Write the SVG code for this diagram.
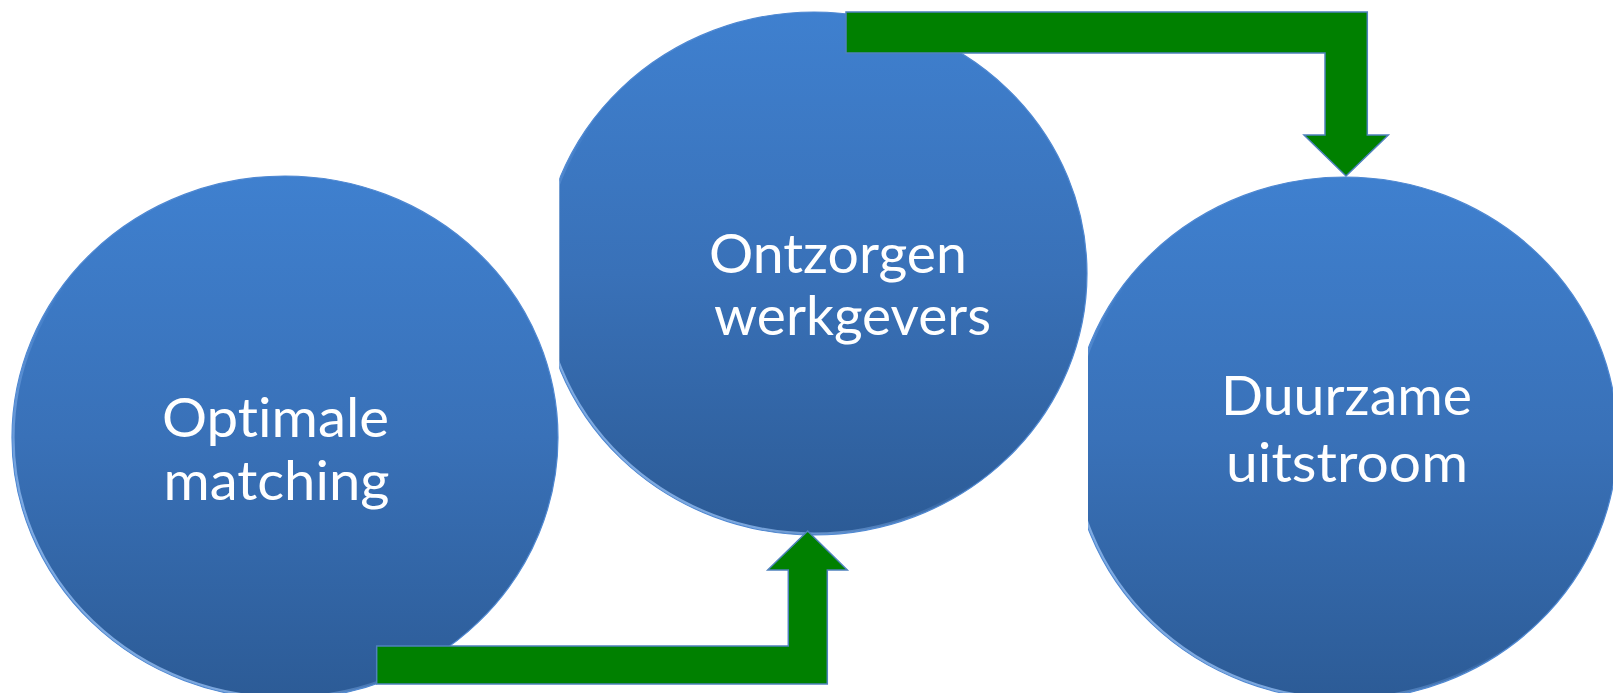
<svg xmlns="http://www.w3.org/2000/svg" width="1613" height="693" viewBox="0 0 1613 693">
  <style>
    .disc { stroke: #4F88D2; stroke-width: 1.2; }
    .rim { fill: none; stroke: url(#rimGrad); stroke-width: 2.2; }
    .lbl { font-family: Lato, "Open Sans", "Liberation Sans", sans-serif; font-size: 54px; fill: #FFFFFF; text-anchor: middle; font-variant-ligatures: none; font-feature-settings: "liga" 0, "clig" 0, "dlig" 0; }
    .arrow { fill: #008000; stroke: #4F81BD; stroke-width: 1.5; stroke-linejoin: miter; }
  </style>
  <defs>
    <linearGradient id="blueGrad" x1="0" y1="0" x2="0" y2="1">
      <stop offset="0" stop-color="#3F80CF"/>
      <stop offset="0.5" stop-color="#3971B8"/>
      <stop offset="1" stop-color="#2C5B96"/>
    </linearGradient>
    <linearGradient id="rimGrad" x1="1" y1="0" x2="0" y2="1">
      <stop offset="0" stop-color="#6FA3E6" stop-opacity="0"/>
      <stop offset="0.55" stop-color="#6FA3E6" stop-opacity="0"/>
      <stop offset="0.8" stop-color="#8DB8EE" stop-opacity="0.8"/>
      <stop offset="1" stop-color="#8DB8EE" stop-opacity="0.9"/>
    </linearGradient>
    <clipPath id="clipMid">
      <rect x="559.3" y="0" width="1054" height="693"/>
    </clipPath>
    <clipPath id="clipRight">
      <rect x="1088" y="0" width="525" height="693"/>
    </clipPath>
  </defs>
  <rect x="0" y="0" width="1613" height="693" fill="#FFFFFF"/>

  <g id="node-optimale-matching">
    <ellipse class="disc" cx="285" cy="437.5" rx="273" ry="261.5" fill="url(#blueGrad)"/>
    <ellipse class="rim" cx="285" cy="437.5" rx="271.5" ry="260"/>
    <text class="lbl" x="275.5" y="436.7" textLength="227" lengthAdjust="spacingAndGlyphs">Optimale</text>
    <text class="lbl" x="276.5" y="500" textLength="226" lengthAdjust="spacingAndGlyphs">matching</text>
  </g>

  <g id="node-ontzorgen-werkgevers">
    <g clip-path="url(#clipMid)">
      <ellipse class="disc" cx="814" cy="273.5" rx="273" ry="261.5" fill="url(#blueGrad)"/>
      <ellipse class="rim" cx="814" cy="273.5" rx="271.5" ry="260"/>
    </g>
    <text class="lbl" x="838" y="273.3" textLength="258" lengthAdjust="spacingAndGlyphs">Ontzorgen</text>
    <text class="lbl" x="852.5" y="335" textLength="277" lengthAdjust="spacingAndGlyphs">werkgevers</text>
  </g>

  <g id="node-duurzame-uitstroom">
    <g clip-path="url(#clipRight)">
      <ellipse class="disc" cx="1344.5" cy="438.5" rx="273" ry="261.5" fill="url(#blueGrad)"/>
      <ellipse class="rim" cx="1344.5" cy="438.5" rx="271.5" ry="260"/>
    </g>
    <text class="lbl" x="1346.5" y="415" textLength="251" lengthAdjust="spacingAndGlyphs">Duurzame</text>
    <text class="lbl" x="1347" y="481.7" textLength="242" lengthAdjust="spacingAndGlyphs">uitstroom</text>
  </g>

  <g id="connectors">
    <polygon class="arrow" points="376.7,646 788.3,646 788.3,570 767.7,570 807.7,531 847.3,570 827.3,570 827.3,684 376.7,684"/>
    <polygon class="arrow" points="846,12 1367.3,12 1367.3,135 1388.3,135 1346,176 1304,135 1325,135 1325,53 846,53"/>
  </g>
</svg>
